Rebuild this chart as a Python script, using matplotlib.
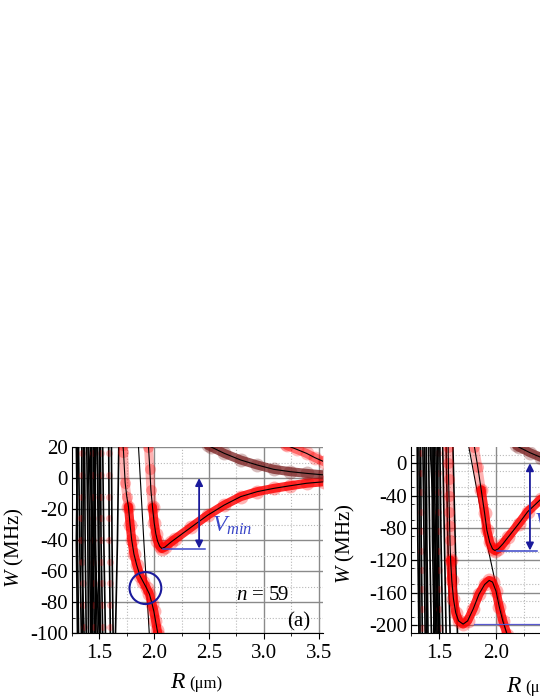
import numpy as np
import matplotlib
matplotlib.use("Agg")
import matplotlib.pyplot as plt
from matplotlib.patches import Ellipse

plt.rcParams["font.family"] = ["Liberation Serif", "DejaVu Serif"]
plt.rcParams["font.size"] = 15
plt.rcParams["axes.unicode_minus"] = False
plt.rcParams["mathtext.fontset"] = "custom"
plt.rcParams["mathtext.rm"] = "Liberation Serif"
plt.rcParams["mathtext.it"] = "Liberation Serif:italic"

# ---------------- panel (a), n = 59 ----------------
# dense steep curves at small R: R at W = 20, -40, -100
a_lines_W = [20, -40, -100]
a_lines_R = [
    [1.29, 1.30, 1.31], [1.31, 1.32, 1.335], [1.34, 1.335, 1.36],
    [1.365, 1.37, 1.38], [1.385, 1.395, 1.40], [1.42, 1.43, 1.44],
    [1.445, 1.44, 1.455], [1.46, 1.465, 1.48], [1.48, 1.49, 1.50],
    [1.51, 1.515, 1.53], [1.53, 1.54, 1.555], [1.585, 1.59, 1.60],
    [1.61, 1.615, 1.625], [1.677, 1.665, 1.647], [1.40, 1.45, 1.50],
    [1.47, 1.445, 1.425], [1.30, 1.29, 1.30], [1.355, 1.35, 1.345],
    [1.40, 1.41, 1.42], [1.43, 1.425, 1.43], [1.455, 1.46, 1.465],
    [1.50, 1.495, 1.51],
]
a_pale_lines = [2, 6, 9, 11]          # lines carrying faint red points
a_pale_W = [16, 2, -12, -26, -40, -54, -68, -82, -96]

# potential well with minimum V_min
a_well_R = [1.948, 1.96, 1.97, 1.985, 2.0, 2.015, 2.03, 2.05, 2.07, 2.10,
            2.15, 2.19, 2.34, 2.49, 2.64, 2.79, 2.94, 3.09, 3.24, 3.39, 3.55]
a_well_W = [20, 6, -7.7, -19, -29, -36, -40.5, -44, -45.5, -44.5,
            -41.5, -39.4, -31.6, -23.9, -17.4, -12.0, -8.8, -6.7, -5.0, -3.4, -2.4]
a_well_pale = 3  # first points drawn pale

# curve going through the avoided crossing
a_cross_R = [1.715, 1.72, 1.735, 1.75, 1.765, 1.78, 1.795, 1.815, 1.84, 1.87,
             1.90, 1.93, 1.957, 1.98, 1.997, 2.012, 2.027, 2.035]
a_cross_W = [21, 17, -3, -12, -18.5, -30, -40, -49, -56, -63,
             -67, -71, -75, -81, -86, -92, -98, -101]
a_cross_pale = 4

# thin crossing line
a_thin_R = [1.857, 1.905, 1.955]
a_thin_W = [20, -40, -100]

# upper (dark) curve and top-right curve
a_upper_R = [2.49, 2.52, 2.64, 2.79, 2.94, 3.09, 3.24, 3.39, 3.55]
a_upper_W = [21, 20, 15.9, 11.6, 8.4, 5.6, 4.1, 3.0, 2.0]
a_top_R = [3.20, 3.21, 3.30, 3.39, 3.47, 3.55]
a_top_W = [22, 21, 18.5, 15.9, 13.0, 10.5]

# ---------------- panel (b) ----------------
b_lines_W = [20, -95, -210]
b_lines_R = [
    [1.305, 1.31, 1.32], [1.335, 1.34, 1.35], [1.355, 1.365, 1.375],
    [1.385, 1.39, 1.40], [1.405, 1.415, 1.43], [1.435, 1.44, 1.455],
    [1.455, 1.465, 1.48], [1.485, 1.49, 1.505], [1.505, 1.515, 1.53],
    [1.53, 1.545, 1.56], [1.56, 1.575, 1.595], [1.62, 1.64, 1.66],
    [1.42, 1.46, 1.50], [1.49, 1.47, 1.45], [1.32, 1.325, 1.33],
    [1.37, 1.38, 1.39], [1.445, 1.45, 1.47], [1.47, 1.48, 1.49],
]
b_pale_lines = [1, 7]
b_pale_W = [12, -12, -36, -60, -84, -108, -132, -156, -180, -204]

b_well_R = [1.81, 1.84, 1.87, 1.90, 1.92, 1.945, 1.97, 1.99, 2.02, 2.06, 2.11,
            2.2, 2.28, 2.4, 2.6, 2.8, 3.0, 3.25, 3.5]
b_well_W = [20, -5, -33, -62, -83, -98, -106, -108, -106, -100, -91,
            -75, -60, -44, -27, -17, -11, -7, -5]
b_well_pale = 2

b_low_R = [1.578, 1.580, 1.582, 1.585, 1.588, 1.591, 1.594, 1.60, 1.61, 1.625,
           1.645, 1.67, 1.71, 1.75, 1.80, 1.85, 1.90, 1.94, 1.97, 2.00,
           2.03, 2.06, 2.10]
b_low_W = [20, 0, -20, -40, -60, -78, -95, -120, -145, -168,
           -185, -195, -199, -195, -180, -162, -150, -145, -147, -158,
           -178, -195, -212]
b_low_pale = 7

b_thin_R = [1.761, 1.914, 2.089]
b_thin_W = [20, -95, -209]

b_upper_R = [2.18, 2.2, 2.3, 2.4, 2.6, 3.0, 3.5]
b_upper_W = [22, 20, 13, 7, 1, -3, -4]

RED = "#ff0000"
DARK = "#7a1f1f"
NAVY = "#1a1a9c"
LBLUE = "#3a46c8"


def red_curve(ax, R, W, color, band_alpha, dot_alpha, pale=0):
    R = np.asarray(R)
    W = np.asarray(W)
    if pale > 0:
        ax.plot(R[:pale + 1], W[:pale + 1], "o", color=color, alpha=0.28, ms=8, mew=0)
        ax.plot(R[:pale + 1], W[:pale + 1], "-", color=color, alpha=0.3, lw=6.5,
                solid_capstyle="round")
    ax.plot(R[pale:], W[pale:], "o", color=color, alpha=dot_alpha, ms=10, mew=0)
    ax.plot(R[pale:], W[pale:], "-", color=color, alpha=band_alpha, lw=6.5,
            solid_capstyle="round")
    ax.plot(R, W, "-", color="k", lw=0.8)


def dense_lines(ax, lines_R, lines_W, pale_idx, pale_W):
    for i, r in enumerate(lines_R):
        ax.plot(r, lines_W, "-", color="k", lw=1.2)
        if i in pale_idx:
            rr = np.interp(pale_W, lines_W[::-1], r[::-1])
            ax.plot(rr, pale_W, "o", color=RED, alpha=0.25, ms=5, mew=0)


def style_axes(ax, xlim, ylim, yticks, ymin_step):
    ax.set_xlim(*xlim)
    ax.set_ylim(*ylim)
    ax.set_xticks([1.5, 2.0, 2.5, 3.0, 3.5])
    ax.set_xticklabels(["1.5", "2.0", "2.5", "3.0", "3.5"])
    ax.set_xticks(np.arange(1.25, 3.6, 0.25), minor=True)
    ax.set_yticks(yticks)
    ax.set_yticks(np.arange(ylim[0], ylim[1] + 1, ymin_step), minor=True)
    ax.set_axisbelow(True)
    ax.grid(which="major", color="#8a8a8a", lw=1.0)
    ax.grid(which="minor", color="#b8b8b8", ls=":", lw=0.8)
    for s in ["top", "right"]:
        ax.spines[s].set_visible(False)
    ax.tick_params(axis="y", which="major", direction="in", length=4, pad=3)
    ax.tick_params(axis="y", which="minor", direction="in", length=2.5)
    ax.tick_params(axis="x", which="major", direction="out", length=4, pad=4)
    ax.tick_params(axis="x", which="minor", direction="out", length=2.5)


fig = plt.figure(figsize=(5.4, 6.99), dpi=100)

# panel (a)
ax1 = fig.add_axes([0.1333, 0.0944, 0.4648, 0.2661])
dense_lines(ax1, a_lines_R, a_lines_W, a_pale_lines, a_pale_W)
ax1.plot(a_thin_R, a_thin_W, "-", color="k", lw=0.8)
red_curve(ax1, a_cross_R, a_cross_W, RED, 0.82, 0.3, pale=a_cross_pale)
red_curve(ax1, a_well_R, a_well_W, RED, 0.82, 0.3, pale=a_well_pale)
red_curve(ax1, a_upper_R, a_upper_W, DARK, 0.75, 0.3)
red_curve(ax1, a_top_R, a_top_W, RED, 0.45, 0.25)
ax1.add_patch(Ellipse((1.92, -71), 0.29, 20.6, fill=False, ec=NAVY, lw=1.5, zorder=5))
ax1.plot([2.08, 2.46], [-45.5, -45.5], color=LBLUE, lw=1.1, zorder=5)
ax1.annotate("", xy=(2.41, 0), xytext=(2.41, -45.5),
             arrowprops=dict(arrowstyle="<|-|>", color=NAVY, lw=1.3,
                             mutation_scale=11, shrinkA=0, shrinkB=0), zorder=6)
ax1.text(2.53, -31, r"$V_{min}$", color=LBLUE, fontsize=17, va="center", ha="left")
ax1.text(2.75, -79, r"$n$ = 59", fontsize=15, va="baseline", ha="left")
ax1.text(3.21, -96, "(a)", fontsize=15, va="baseline", ha="left")
style_axes(ax1, (1.278, 3.54), (-100, 20), np.arange(-100, 21, 20), 10)
ax1.set_ylabel(r"$W$ (MHz)", fontsize=15)
ax1.yaxis.set_label_coords(-0.185, 0.46)
ax1.text(0.455, -0.298, r"$R$", fontsize=17, ha="right", va="baseline",
         transform=ax1.transAxes)
ax1.text(0.466, -0.298, "(μm)", fontsize=12, ha="left", va="baseline",
         transform=ax1.transAxes)

# panel (b), cut at the right edge of the figure
ax2 = fig.add_axes([0.7611, 0.0944, 0.472, 0.2661])
dense_lines(ax2, b_lines_R, b_lines_W, b_pale_lines, b_pale_W)
ax2.plot(b_thin_R, b_thin_W, "-", color="k", lw=0.8)
red_curve(ax2, b_low_R, b_low_W, RED, 0.82, 0.3, pale=b_low_pale)
red_curve(ax2, b_well_R, b_well_W, RED, 0.82, 0.3, pale=b_well_pale)
red_curve(ax2, b_upper_R, b_upper_W, DARK, 0.75, 0.3)
ax2.plot([2.01, 2.36], [-108, -108], color=LBLUE, lw=1.1, zorder=5)
ax2.plot([1.81, 2.7], [-199, -199], color="#5a5ad0", lw=0.9, zorder=5)
ax2.annotate("", xy=(2.30, 0), xytext=(2.30, -108),
             arrowprops=dict(arrowstyle="<|-|>", color=NAVY, lw=1.3,
                             mutation_scale=11, shrinkA=0, shrinkB=0), zorder=6)
ax2.text(2.34, -74, r"$V_{min}$", color=LBLUE, fontsize=17, va="center", ha="left")
style_axes(ax2, (1.30, 3.5), (-210, 20), np.arange(-200, 1, 40), 20)
ax2.set_ylabel(r"$W$ (MHz)", fontsize=15)
ax2.yaxis.set_label_coords(-0.212, 0.48)
ax2.text(0.435, -0.317, r"$R$", fontsize=17, ha="right", va="baseline",
         transform=ax2.transAxes)
ax2.text(0.447, -0.317, "(μm)", fontsize=12, ha="left", va="baseline",
         transform=ax2.transAxes)

fig.savefig("out.png", dpi=100)
